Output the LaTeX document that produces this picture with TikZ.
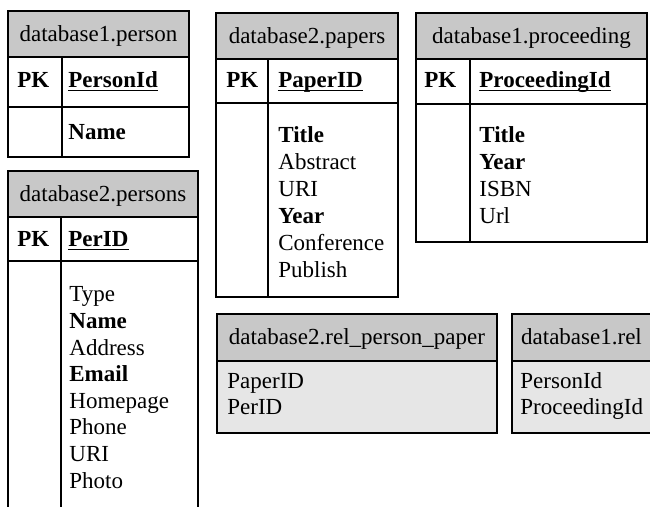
\documentclass[tikz,border=0pt]{standalone}
\usepackage{fontspec}
\setmainfont{Liberation Serif}

\definecolor{headgray}{RGB}{200,200,200}
\definecolor{relgray}{RGB}{230,230,230}

\tikzset{
  tabline/.style = {line width=0.9pt},
  keyline/.style = {line width=0.9pt},
  headtext/.style = {anchor=base,inner sep=0pt},
  fieldtext/.style = {anchor=base west,inner sep=0pt},
}

\begin{document}
\begin{tikzpicture}[x=0.5pt,y=-0.5pt,font=\fontsize{11.5}{13.4}\selectfont]

\useasboundingbox (0,0) rectangle (650,507) ;

% database1.person
\filldraw[tabline,fill=headgray] (8,11) rectangle (189,57) ;
\draw[tabline] (8,57) rectangle (189,157) ;
\draw[tabline] (8,107) -- (189,107) ;
\draw[tabline] (62,57) -- (62,157) ;
\node[headtext] (person_head) at (98.5,41.5) {database1.person} ;
\node[fieldtext] (person_pk) at (17,88) {\textbf{PK}} ;
\node[fieldtext] (person_key) at (68,88) {\textbf{PersonId}} ;
\draw[keyline] ([yshift=-1.3pt]person_key.base west) -- ([yshift=-1.3pt]person_key.base east) ;
\node[fieldtext] (person_name) at (68,140) {\textbf{Name}} ;

% database2.persons
\filldraw[tabline,fill=headgray] (8,171) rectangle (198,217) ;
\draw[tabline] (8,217) rectangle (198,520) ;
\draw[tabline] (8,261) -- (198,261) ;
\draw[tabline] (61,217) -- (61,520) ;
\node[headtext] (persons_head) at (103,202) {database2.persons} ;
\node[fieldtext] (persons_pk) at (17,247) {\textbf{PK}} ;
\node[fieldtext] (persons_key) at (68,247) {\textbf{PerID}} ;
\draw[keyline] ([yshift=-1.3pt]persons_key.base west) -- ([yshift=-1.3pt]persons_key.base east) ;
\node[fieldtext] (persons_type) at (69,302) {Type} ;
\node[fieldtext] (persons_name) at (69,328.6) {\textbf{Name}} ;
\node[fieldtext] (persons_address) at (69,355.2) {Address} ;
\node[fieldtext] (persons_email) at (69,381.8) {\textbf{Email}} ;
\node[fieldtext] (persons_homepage) at (69,408.4) {Homepage} ;
\node[fieldtext] (persons_phone) at (69,435) {Phone} ;
\node[fieldtext] (persons_uri) at (69,461.6) {URI} ;
\node[fieldtext] (persons_photo) at (69,488.2) {Photo} ;

% database2.papers
\filldraw[tabline,fill=headgray] (216,13) rectangle (398,59) ;
\draw[tabline] (216,59) rectangle (398,297) ;
\draw[tabline] (216,103) -- (398,103) ;
\draw[tabline] (268,59) -- (268,297) ;
\node[headtext] (papers_head) at (307,43.5) {database2.papers} ;
\node[fieldtext] (papers_pk) at (226,88) {\textbf{PK}} ;
\node[fieldtext] (papers_key) at (278,88) {\textbf{PaperID}} ;
\draw[keyline] ([yshift=-1.3pt]papers_key.base west) -- ([yshift=-1.3pt]papers_key.base east) ;
\node[fieldtext] (papers_title) at (278,143) {\textbf{Title}} ;
\node[fieldtext] (papers_abstract) at (278,170) {Abstract} ;
\node[fieldtext] (papers_uri) at (278,197) {URI} ;
\node[fieldtext] (papers_year) at (278,224) {\textbf{Year}} ;
\node[fieldtext] (papers_conference) at (278,251) {Conference} ;
\node[fieldtext] (papers_publish) at (278,278) {Publish} ;

% database1.proceeding
\filldraw[tabline,fill=headgray] (416,13) rectangle (647,59) ;
\draw[tabline] (416,59) rectangle (647,242) ;
\draw[tabline] (416,104) -- (647,104) ;
\draw[tabline] (470,59) -- (470,242) ;
\node[headtext] (proc_head) at (531.5,43.5) {database1.proceeding} ;
\node[fieldtext] (proc_pk) at (424,88) {\textbf{PK}} ;
\node[fieldtext] (proc_key) at (479,88) {\textbf{ProceedingId}} ;
\draw[keyline] ([yshift=-1.3pt]proc_key.base west) -- ([yshift=-1.3pt]proc_key.base east) ;
\node[fieldtext] (proc_title) at (479,143) {\textbf{Title}} ;
\node[fieldtext] (proc_year) at (479,170) {\textbf{Year}} ;
\node[fieldtext] (proc_isbn) at (479,197) {ISBN} ;
\node[fieldtext] (proc_url) at (479,224) {Url} ;

% database2.rel_person_paper
\filldraw[tabline,fill=headgray] (217,314) rectangle (497,361) ;
\filldraw[tabline,fill=relgray] (217,361) rectangle (497,433) ;
\node[headtext] (relpp_head) at (357,345) {database2.rel\_person\_paper} ;
\node[fieldtext] (relpp_paper) at (227,389) {PaperID} ;
\node[fieldtext] (relpp_per) at (227,415) {PerID} ;

% database1.rel
\filldraw[tabline,fill=headgray] (512,314) rectangle (655,361) ;
\filldraw[tabline,fill=relgray] (512,361) rectangle (655,433) ;
\node[headtext] (rel_head) at (581.5,345) {database1.rel} ;
\node[fieldtext] (rel_person) at (520,389) {PersonId} ;
\node[fieldtext] (rel_proc) at (520,415) {ProceedingId} ;

\end{tikzpicture}
\end{document}
